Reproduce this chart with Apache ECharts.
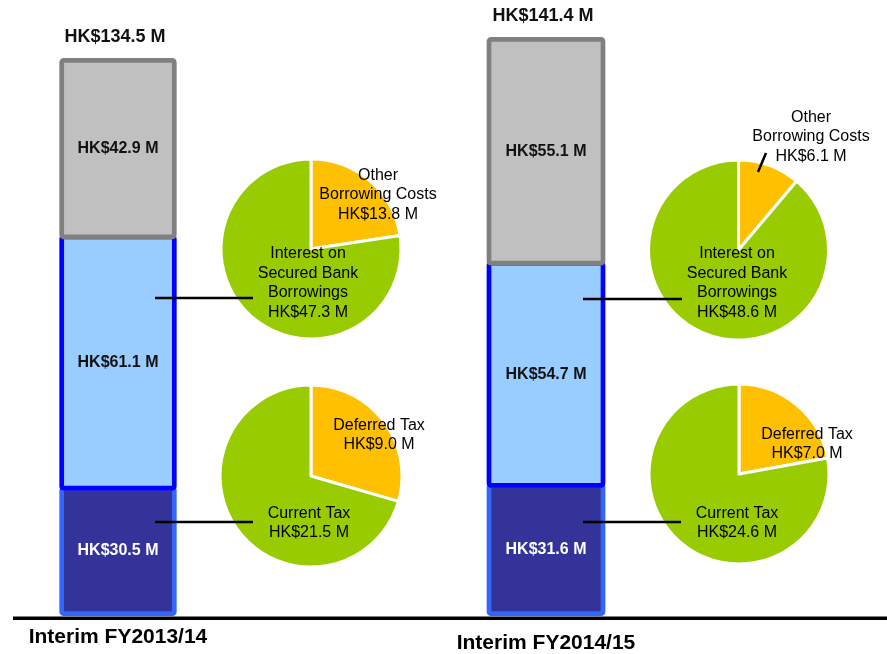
<!DOCTYPE html>
<html>
<head>
<meta charset="utf-8">
<script src="https://cdn.jsdelivr.net/npm/echarts@6/dist/echarts.min.js"></script>
<style>
  html, body { margin: 0; padding: 0; background: #fff; }
  #chart { width: 887px; height: 654px; }
</style>
</head>
<body>
<div id="chart"></div>
<script>
// Periods shown as stacked columns
const categories = ['Interim FY2013/14', 'Interim FY2014/15'];

// Column segments (HK$ million), bottom to top
const taxation = [30.5, 31.6];
const financeCosts = [61.1, 54.7];
const otherItems = [42.9, 55.1];
const totals = [134.5, 141.4];

// Breakdown of finance costs (HK$ million)
const otherBorrowingCosts = [13.8, 6.1];
const securedBankInterest = [47.3, 48.6];

// Breakdown of taxation (HK$ million)
const deferredTax = [9.0, 7.0];
const currentTax = [21.5, 24.6];

// Slice captions
const financeNames = ['Other\nBorrowing Costs', 'Interest on\nSecured Bank\nBorrowings'];
const taxNames = ['Deferred Tax', 'Current Tax'];

const FONT = 'Arial, "Liberation Sans", sans-serif';
const fmt = v => 'HK$' + v.toFixed(1) + ' M';

const GREEN = '#99CC00';
const ORANGE = '#FFC000';

// Column geometry per period (stroke centred on the column outline)
const grids = [
  { left: 61.7, width: 112.6, top: 17.1, height: 596.6 },
  { left: 489, width: 114, top: 24.7, height: 589 }
];
const catMargins = [13, 19];

const segStyles = [
  { color: '#333399', borderColor: '#3366FF', labelColor: '#ffffff' },
  { color: '#99CCFF', borderColor: '#0000FF', labelColor: '#111111' },
  { color: '#C0C0C0', borderColor: '#808080', labelColor: '#111111' }
];
const segData = [taxation, financeCosts, otherItems];
const segNames = ['Taxation', 'Finance Costs', 'Other'];

// Draws one column segment from [category, base, top, value]
function renderSegment(style, isTop, total) {
  return function (params, api) {
    const x = api.value(0);
    const p0 = api.coord([x, api.value(1)]);
    const p1 = api.coord([x, api.value(2)]);
    const w = api.size([1, 0])[0];
    const left = p0[0] - w / 2;
    const children = [{
      type: 'rect',
      shape: { x: left, y: p1[1], width: w, height: p0[1] - p1[1], r: 2 },
      style: { fill: style.color, stroke: style.borderColor, lineWidth: 4.7 }
    }, {
      type: 'text',
      style: {
        text: fmt(api.value(3)), x: p0[0], y: (p0[1] + p1[1]) / 2,
        align: 'center', verticalAlign: 'middle',
        fill: style.labelColor, font: 'bold 16px ' + FONT
      }
    }];
    if (isTop) {
      children.push({
        type: 'text',
        style: {
          text: fmt(total), x: p0[0] - 3, y: p1[1] - 23,
          align: 'center', verticalAlign: 'middle',
          fill: '#111', font: 'bold 18px ' + FONT
        }
      });
    }
    return { type: 'group', children };
  };
}

const xAxes = [], yAxes = [], series = [];
grids.forEach((g, gi) => {
  xAxes.push({
    type: 'category', gridIndex: gi, data: [categories[gi]],
    axisLine: { show: false }, axisTick: { show: false },
    axisLabel: {
      margin: catMargins[gi], color: '#000', fontFamily: FONT,
      fontWeight: 'bold', fontSize: 21
    }
  });
  yAxes.push({
    type: 'value', gridIndex: gi, min: 0, max: 145, show: false,
    splitLine: { show: false }
  });
  let base = 0;
  segData.forEach((arr, si) => {
    const v = arr[gi];
    series.push({
      type: 'custom', name: segNames[si], xAxisIndex: gi, yAxisIndex: gi,
      data: [[0, base, base + v, v]],
      encode: { x: 0, y: [1, 2] },
      renderItem: renderSegment(segStyles[si], si === segData.length - 1, totals[gi]),
      z: 2
    });
    base += v;
  });
});

// Pie charts: centre, radius and caption anchors
const pies = [
  { center: [311, 249], r: 90, values: [otherBorrowingCosts[0], securedBankInterest[0]], names: financeNames, anchors: [[378, 195], [308, 283]] },
  { center: [311, 476], r: 91, values: [deferredTax[0], currentTax[0]], names: taxNames, anchors: [[379, 435], [309, 523]] },
  { center: [738.5, 250], r: 90, values: [otherBorrowingCosts[1], securedBankInterest[1]], names: financeNames, anchors: [[811, 137], [737, 283]] },
  { center: [739, 474], r: 90, values: [deferredTax[1], currentTax[1]], names: taxNames, anchors: [[807, 444], [737, 523]] }
];

pies.forEach(p => {
  series.push({
    type: 'pie', center: p.center, radius: [0, p.r],
    startAngle: 90, clockwise: true,
    data: p.values.map((v, i) => ({
      name: p.names[i], value: v,
      itemStyle: { color: i === 0 ? ORANGE : GREEN }
    })),
    itemStyle: { borderColor: '#ffffff', borderWidth: 3 },
    label: {
      show: true, position: 'inside',
      formatter: q => q.name + '\n' + fmt(q.value),
      color: '#000', fontFamily: FONT, fontSize: 16, lineHeight: 19.5,
      align: 'center'
    },
    labelLine: { show: false },
    labelLayout: params => ({
      x: p.anchors[params.dataIndex][0],
      y: p.anchors[params.dataIndex][1],
      align: 'center', verticalAlign: 'middle'
    }),
    emphasis: { disabled: true },
    z: 3
  });
});

const leader = (x1, y1, x2, y2) => ({
  type: 'line', z: 100,
  shape: { x1, y1, x2, y2 },
  style: { stroke: '#000', lineWidth: 2.5 }
});

const chart = echarts.init(document.getElementById('chart'), null, { renderer: 'canvas' });
chart.setOption({
  animation: false,
  backgroundColor: '#ffffff',
  grid: grids.map(g => Object.assign({ containLabel: false }, g)),
  xAxis: xAxes,
  yAxis: yAxes,
  series,
  graphic: [
    { type: 'rect', z: 100, shape: { x: 13, y: 616.5, width: 874, height: 3.5 }, style: { fill: '#000' } },
    leader(155, 298, 253, 298),
    leader(155, 522, 253, 522),
    leader(583, 299, 682, 299),
    leader(583, 522, 681, 522),
    leader(758, 172, 766, 153)
  ]
});
</script>
</body>
</html>
